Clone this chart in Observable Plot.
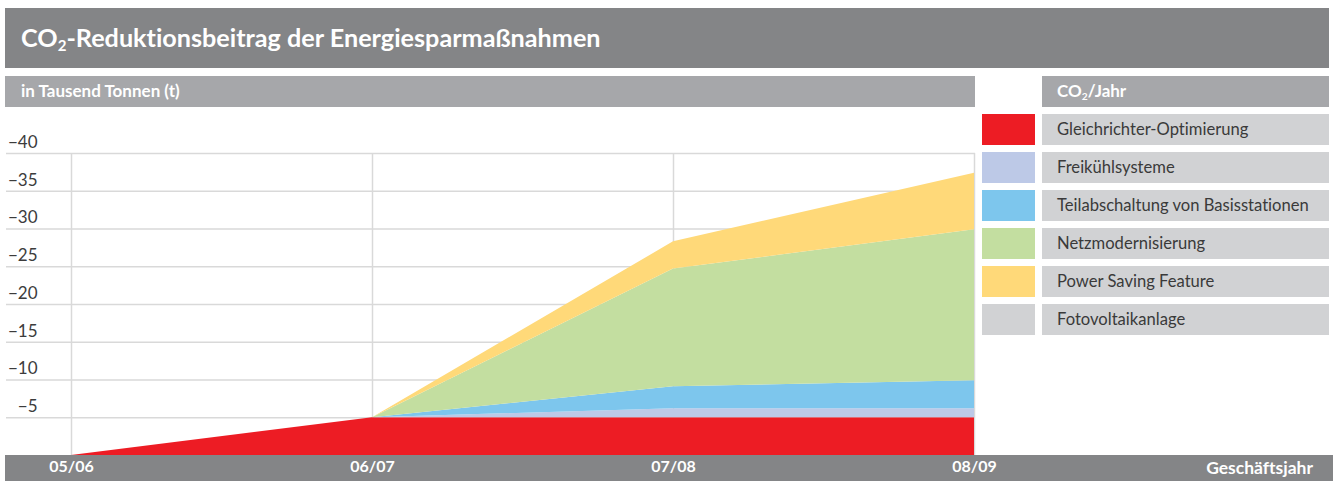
<!DOCTYPE html>
<html><head><meta charset="utf-8">
<script src="https://cdn.jsdelivr.net/npm/d3@7"></script>
<script src="https://cdn.jsdelivr.net/npm/@observablehq/plot@0.6"></script>
<style>
body{margin:0;background:#fff;font-family:Lato,"Open Sans",sans-serif;font-variant-ligatures:none;}
#wrap{position:relative;width:1333px;height:481px;overflow:hidden;}
.bx{position:absolute;box-sizing:border-box;white-space:nowrap;}
.hd{color:#fff;font-weight:bold;}
#title{left:5px;top:8px;width:1324px;height:60px;background:#848587;font-size:25.2px;line-height:58px;padding-left:16px;}
#sub{left:5px;top:76px;width:970px;height:31px;background:#a6a7aa;font-size:17px;line-height:30px;padding-left:16px;}
#leghd{left:1042px;top:76px;width:287px;height:31px;background:#a6a7aa;font-size:17px;line-height:30px;padding-left:15px;}
#bottom{left:5px;top:455px;width:1328px;height:26px;background:#848587;font-size:17.5px;line-height:26px;text-align:right;padding-right:20px;}
.sw{position:absolute;left:982px;width:53px;height:31px;}
.lb{position:absolute;left:1042px;width:287px;height:31px;background:#d1d2d4;color:#3a3a3a;font-size:16.6px;line-height:30px;padding-left:15px;box-sizing:border-box;white-space:nowrap;}
#chart{position:absolute;left:0;top:110px;}
#chart svg text{font-variant-ligatures:none;}
sub{font-size:0.6em;vertical-align:-0.25em;line-height:0;}
</style></head>
<body>
<div id="wrap">
  <div id="title" class="bx hd">CO<sub>2</sub>-Reduktionsbeitrag der Energiesparmaßnahmen</div>
  <div id="sub" class="bx hd">in Tausend Tonnen (t)</div>
  <div id="leghd" class="bx hd">CO<sub>2</sub>/Jahr</div>
  <div id="bottom" class="bx hd">Geschäftsjahr</div>
  <div id="chart"></div>
</div>
<script>
const years = ["05/06", "06/07", "07/08", "08/09"];
const seriesNames = ["Gleichrichter-Optimierung", "Freikühlsysteme", "Teilabschaltung von Basisstationen", "Netzmodernisierung", "Power Saving Feature", "Fotovoltaikanlage"];
const seriesColors = ["#ed1c24", "#bdc9e7", "#7dc6ed", "#c3dea0", "#ffd979", "#d1d2d4"];
const gleichrichter = [0, 5.0, 5.0, 5.0];
const freikuehl = [0, 0, 1.2, 1.2];
const teilabschaltung = [0, 0, 2.9, 3.7];
const netzmodernisierung = [0, 0, 15.6, 20.0];
const powerSaving = [0, 0, 3.6, 7.5];
const fotovoltaik = [0, 0, 0, 0];
const yTicks = [5, 10, 15, 20, 25, 30, 35, 40];
const yTickLabels = ["−5", "−10", "−15", "−20", "−25", "−30", "−35", "−40"];

const seriesValues = [gleichrichter, freikuehl, teilabschaltung, netzmodernisierung, powerSaving, fotovoltaik];
const data = [];
seriesNames.forEach((s, si) => years.forEach((y, yi) => data.push({year: y, series: s, value: seriesValues[si][yi]})));

// legend
const wrap = document.getElementById("wrap");
seriesNames.forEach((s, i) => {
  const top = 114 + i * 38;
  const sw = document.createElement("div");
  sw.className = "sw"; sw.style.top = top + "px"; sw.style.background = seriesColors[i];
  const lb = document.createElement("div");
  lb.className = "lb"; lb.style.top = top + "px"; lb.textContent = s;
  wrap.appendChild(sw); wrap.appendChild(lb);
});

const plot = Plot.plot({
  width: 1333,
  height: 371,
  marginLeft: 6,
  marginRight: 358,
  marginTop: 43,
  marginBottom: 26,
  style: {background: "transparent", fontFamily: "Lato, 'Open Sans', sans-serif", overflow: "visible"},
  x: {type: "point", domain: years, range: [70, 975], padding: 0},
  y: {domain: [0, 40]},
  color: {domain: seriesNames, range: seriesColors},
  marks: [
    Plot.ruleY(yTicks, {stroke: "#d9d9d9", strokeWidth: 1.5}),
    Plot.ruleX(years, {x: d => d, y1: 0, y2: 40, stroke: "#d9d9d9", strokeWidth: 1.5}),
    Plot.areaY(data, {x: "year", y: "value", fill: "series", order: seriesNames}),
    Plot.axisY(yTicks, {anchor: "left", tickSize: 0, tickPadding: 0, textAnchor: "end", dx: 31, dy: -11, fontSize: 17, fill: "#3c3c3c", tickFormat: d => yTickLabels[yTicks.indexOf(d)], label: null}),
    Plot.axisX(years, {anchor: "bottom", tickSize: 0, tickPadding: 5, fill: "white", fontWeight: "bold", fontSize: 16, label: null})
  ]
});
document.getElementById("chart").appendChild(plot);
</script>
</body></html>
